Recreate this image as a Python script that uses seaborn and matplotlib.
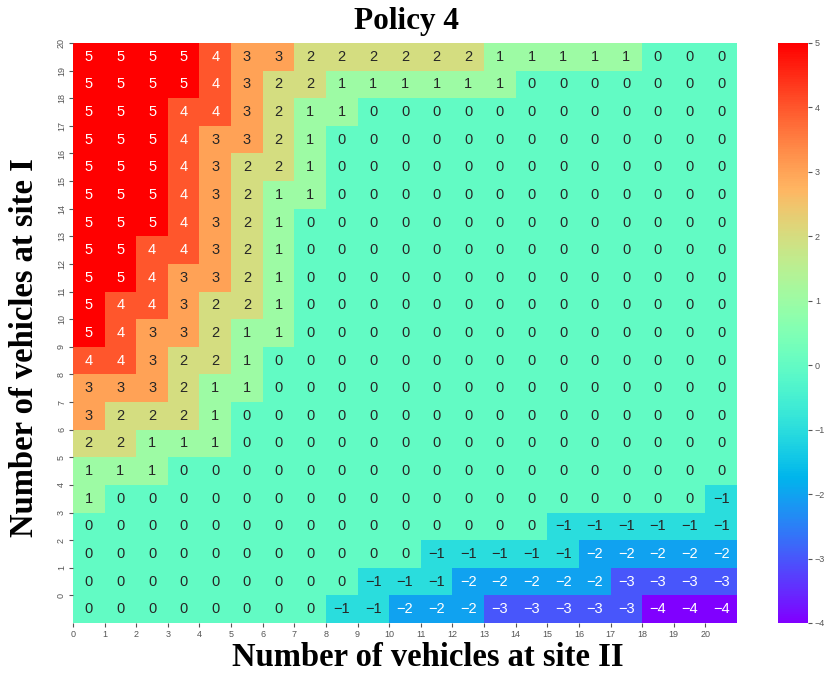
import numpy as np
import pandas as pd
import matplotlib
matplotlib.use("Agg")
import matplotlib.pyplot as plt
import seaborn as sns

# Vehicles at each site (axis levels)
site_I_levels = list(range(20, -1, -1))   # rows, top to bottom
site_II_levels = list(range(0, 21))       # columns, left to right

# Number of vehicles moved from site I to site II, one row per site-I level (20 .. 0)
moves = [
    [5, 5, 5, 5, 4, 3, 3, 2, 2, 2, 2, 2, 2, 1, 1, 1, 1, 1, 0, 0, 0],
    [5, 5, 5, 5, 4, 3, 2, 2, 1, 1, 1, 1, 1, 1, 0, 0, 0, 0, 0, 0, 0],
    [5, 5, 5, 4, 4, 3, 2, 1, 1, 0, 0, 0, 0, 0, 0, 0, 0, 0, 0, 0, 0],
    [5, 5, 5, 4, 3, 3, 2, 1, 0, 0, 0, 0, 0, 0, 0, 0, 0, 0, 0, 0, 0],
    [5, 5, 5, 4, 3, 2, 2, 1, 0, 0, 0, 0, 0, 0, 0, 0, 0, 0, 0, 0, 0],
    [5, 5, 5, 4, 3, 2, 1, 1, 0, 0, 0, 0, 0, 0, 0, 0, 0, 0, 0, 0, 0],
    [5, 5, 5, 4, 3, 2, 1, 0, 0, 0, 0, 0, 0, 0, 0, 0, 0, 0, 0, 0, 0],
    [5, 5, 4, 4, 3, 2, 1, 0, 0, 0, 0, 0, 0, 0, 0, 0, 0, 0, 0, 0, 0],
    [5, 5, 4, 3, 3, 2, 1, 0, 0, 0, 0, 0, 0, 0, 0, 0, 0, 0, 0, 0, 0],
    [5, 4, 4, 3, 2, 2, 1, 0, 0, 0, 0, 0, 0, 0, 0, 0, 0, 0, 0, 0, 0],
    [5, 4, 3, 3, 2, 1, 1, 0, 0, 0, 0, 0, 0, 0, 0, 0, 0, 0, 0, 0, 0],
    [4, 4, 3, 2, 2, 1, 0, 0, 0, 0, 0, 0, 0, 0, 0, 0, 0, 0, 0, 0, 0],
    [3, 3, 3, 2, 1, 1, 0, 0, 0, 0, 0, 0, 0, 0, 0, 0, 0, 0, 0, 0, 0],
    [3, 2, 2, 2, 1, 0, 0, 0, 0, 0, 0, 0, 0, 0, 0, 0, 0, 0, 0, 0, 0],
    [2, 2, 1, 1, 1, 0, 0, 0, 0, 0, 0, 0, 0, 0, 0, 0, 0, 0, 0, 0, 0],
    [1, 1, 1, 0, 0, 0, 0, 0, 0, 0, 0, 0, 0, 0, 0, 0, 0, 0, 0, 0, 0],
    [1, 0, 0, 0, 0, 0, 0, 0, 0, 0, 0, 0, 0, 0, 0, 0, 0, 0, 0, 0, -1],
    [0, 0, 0, 0, 0, 0, 0, 0, 0, 0, 0, 0, 0, 0, 0, -1, -1, -1, -1, -1, -1],
    [0, 0, 0, 0, 0, 0, 0, 0, 0, 0, 0, -1, -1, -1, -1, -1, -2, -2, -2, -2, -2],
    [0, 0, 0, 0, 0, 0, 0, 0, 0, -1, -1, -1, -2, -2, -2, -2, -2, -3, -3, -3, -3],
    [0, 0, 0, 0, 0, 0, 0, 0, -1, -1, -2, -2, -2, -3, -3, -3, -3, -3, -4, -4, -4],
]

cbar_ticks = [5, 4, 3, 2, 1, 0, -1, -2, -3, -4]

df = pd.DataFrame(moves, index=site_I_levels, columns=site_II_levels)
labels = df.map(lambda v: f"{v}".replace("-", "\u2212"))

W, H = 831, 686
fig = plt.figure(figsize=(W / 100, H / 100), dpi=100)
ax = fig.add_axes([73 / W, 1 - 623 / H, 664 / W, 580 / H])
cax = fig.add_axes([778 / W, 1 - 623 / H, 30 / W, 580 / H])

sns.heatmap(
    df, ax=ax, cbar_ax=cax, cmap="rainbow", vmin=-4, vmax=5,
    annot=labels, fmt="", annot_kws={"fontsize": 10.5, "family": "Liberation Sans"},
    cbar_kws={"ticks": cbar_ticks},
)

# Ticks sit on the cell edges
ax.set_xticks(np.arange(len(site_II_levels)))
ax.set_xticklabels([str(v) for v in site_II_levels], rotation=0)
ax.set_yticks(np.arange(len(site_I_levels)))
ax.set_yticklabels([str(v) for v in site_I_levels], rotation=90, va="center")
ax.tick_params(axis="both", labelsize=6.5, length=3, width=0.8,
               colors="#555555", pad=2)
for lab in ax.get_xticklabels() + ax.get_yticklabels():
    lab.set_family("Liberation Sans")
ax.set_xlabel("")
ax.set_ylabel("")

cax.tick_params(labelsize=6.5, length=3, width=0.8, colors="#555555", pad=2)
cax.set_yticklabels([str(t).replace("-", "\u2212") for t in cbar_ticks])
for lab in cax.get_yticklabels():
    lab.set_family("Liberation Sans")

serif = {"family": "Liberation Serif", "weight": "bold", "color": "black"}
fig.text(406 / W, 1 - 22 / H, "Policy 4", ha="center", va="center",
         fontsize=22.5, **serif)
fig.text(428 / W, 1 - 657 / H, "Number of vehicles at site II", ha="center", va="center",
         fontsize=23.5, **serif)
fig.text(25 / W, 1 - 348 / H, "Number of vehicles at site I", ha="center", va="center",
         rotation=90, fontsize=23.5, **serif)

fig.savefig("out.png", dpi=100)
